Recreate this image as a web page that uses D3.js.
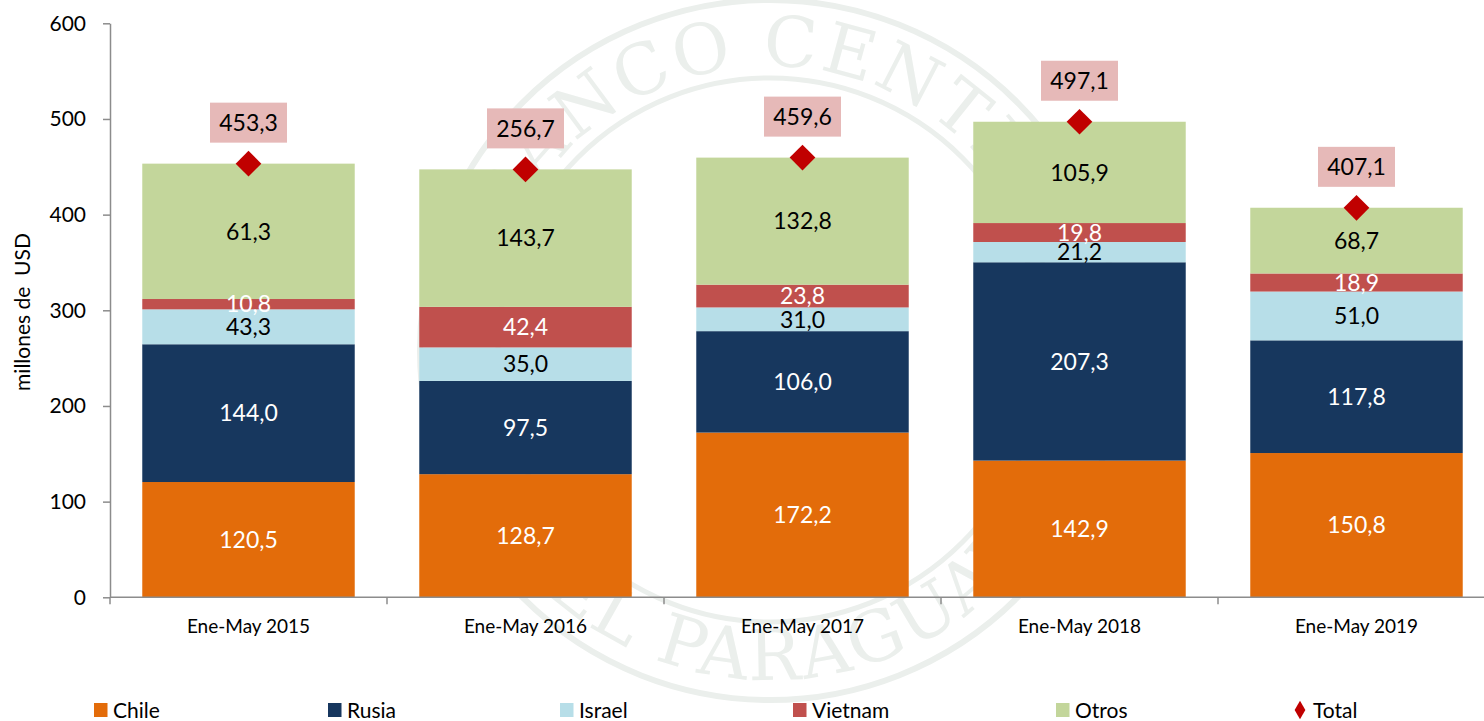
<!DOCTYPE html>
<html>
<meta charset="utf-8">
<style>
    body{ margin: 0; background: #fff; }
    svg{ display: block; font-family: Lato, "Open Sans", sans-serif; }
</style>
<body>
<svg width="1484" height="721"></svg>
<script src="https://d3js.org/d3.v7.min.js"></script>
<script>

    // data
    let years = ["Ene-May 2015", "Ene-May 2016", "Ene-May 2017", "Ene-May 2018", "Ene-May 2019"];
    let chile   = [120.5, 128.7, 172.2, 142.9, 150.8];
    let rusia   = [144.0, 97.5, 106.0, 207.3, 117.8];
    let israel  = [36.5, 35.0, 24.8, 21.2, 51.0];
    let vietnam = [10.8, 42.4, 23.8, 19.8, 18.9];
    let otros   = [141.5, 143.7, 132.8, 105.9, 68.7];
    let total   = [453.3, 447.3, 459.6, 497.1, 407.1];

    // printed labels (as shown in the source, some differ from bar heights)
    let chileLabels   = ["120,5", "128,7", "172,2", "142,9", "150,8"];
    let rusiaLabels   = ["144,0", "97,5", "106,0", "207,3", "117,8"];
    let israelLabels  = ["43,3", "35,0", "31,0", "21,2", "51,0"];
    let vietnamLabels = ["10,8", "42,4", "23,8", "19,8", "18,9"];
    let otrosLabels   = ["61,3", "143,7", "132,8", "105,9", "68,7"];
    let totalLabels   = ["453,3", "256,7", "459,6", "497,1", "407,1"];

    let yTicks = [0, 100, 200, 300, 400, 500, 600];

    let keys = ["Chile", "Rusia", "Israel", "Vietnam", "Otros"];
    let series = {Chile: chile, Rusia: rusia, Israel: israel, Vietnam: vietnam, Otros: otros};
    let labels = {Chile: chileLabels, Rusia: rusiaLabels, Israel: israelLabels, Vietnam: vietnamLabels, Otros: otrosLabels};
    let colors = {Chile: "#e36c0a", Rusia: "#17375e", Israel: "#b7dee8", Vietnam: "#c0504d", Otros: "#c3d69b"};
    let textColors = {Chile: "#fff", Rusia: "#fff", Israel: "#000", Vietnam: "#fff", Otros: "#000"};

    let rows = years.map(function (yr, i) {
        let r = {year: yr, i: i};
        keys.forEach(function (k) { r[k] = series[k][i]; });
        return r;
    });

    let svg = d3.select("svg");

    let x = d3.scaleBand()
        .domain(years)
        .range([110, 110 + 5 * 277])
        .paddingInner(0.233)
        .paddingOuter(0.1165);

    let y = d3.scaleLinear()
        .domain([0, 600])
        .range([597.3, 23.3]);

    // faint seal watermark behind the chart
    let wmColor = "#ebefec";
    let wm = svg.append("g").attr("transform", "translate(770,350)");
    wm.append("circle").attr("r", 350).attr("fill", "none").attr("stroke", wmColor).attr("stroke-width", 6);
    wm.append("circle").attr("r", 272).attr("fill", "none").attr("stroke", wmColor).attr("stroke-width", 5);
    wm.append("path").attr("id", "wmTop")
        .attr("d", "M -284,0 A 284,284 0 0 1 284,0")
        .attr("fill", "none");
    wm.append("path").attr("id", "wmBot")
        .attr("d", "M -330,0 A 330,330 0 0 0 330,0")
        .attr("fill", "none");
    wm.append("text")
        .attr("font-family", "'DejaVu Serif', serif")
        .attr("font-size", 70)
        .attr("fill", wmColor)
        .attr("letter-spacing", 3)
        .append("textPath").attr("href", "#wmTop").attr("startOffset", "53%").attr("text-anchor", "middle")
        .text("BANCO CENTRAL");
    wm.append("text")
        .attr("font-family", "'DejaVu Serif', serif")
        .attr("font-size", 70)
        .attr("fill", wmColor)
        .attr("letter-spacing", 3)
        .append("textPath").attr("href", "#wmBot").attr("startOffset", "50%").attr("text-anchor", "middle")
        .text("DEL PARAGUAY");

    let stacked = d3.stack().keys(keys)(rows);

    let layers = svg.append("g")
        .selectAll("g")
        .data(stacked)
        .enter().append("g")
        .attr("fill", function (d) { return colors[d.key]; });

    layers.selectAll("rect")
        .data(function (d) { return d; })
        .enter().append("rect")
        .attr("x", function (d) { return x(d.data.year); })
        .attr("y", function (d) { return y(d[1]); })
        .attr("width", x.bandwidth())
        .attr("height", function (d) { return y(d[0]) - y(d[1]); });

    // segment labels
    stacked.forEach(function (layer) {
        svg.append("g")
            .selectAll("text")
            .data(layer)
            .enter().append("text")
            .attr("x", function (d) { return x(d.data.year) + x.bandwidth() / 2; })
            .attr("y", function (d) { return (y(d[0]) + y(d[1])) / 2; })
            .attr("dy", "0.36em")
            .attr("text-anchor", "middle")
            .attr("font-size", 23)
            .attr("fill", textColors[layer.key])
            .text(function (d) { return labels[layer.key][d.data.i]; });
    });

    // y axis
    let yAxis = svg.append("g")
        .attr("transform", "translate(110,0)")
        .call(d3.axisLeft(y).tickValues(yTicks).tickSize(7).tickSizeOuter(0).tickPadding(17).tickFormat(d3.format("d")));
    yAxis.select(".domain").attr("stroke", "#8c8c8c").attr("stroke-width", 1.5);
    yAxis.selectAll(".tick line").attr("stroke", "#8c8c8c").attr("stroke-width", 1.5);
    yAxis.selectAll("text").attr("font-size", 21).attr("fill", "#000").attr("font-family", "Lato, sans-serif");

    // x axis
    let xAxis = svg.append("g")
        .attr("transform", "translate(0," + y(0) + ")")
        .call(d3.axisBottom(x).tickSize(0).tickPadding(22));
    xAxis.select(".domain").remove();
    xAxis.selectAll("text").attr("font-size", 19).attr("fill", "#000").attr("font-family", "Lato, sans-serif");

    svg.append("line")
        .attr("x1", 110).attr("x2", 1484)
        .attr("y1", y(0)).attr("y2", y(0))
        .attr("stroke", "#8c8c8c").attr("stroke-width", 1.5);

    let bounds = d3.range(years.length + 1).map(function (i) { return x.range()[0] + i * x.step(); });
    svg.append("g")
        .selectAll("line")
        .data(bounds.filter(function (b) { return b < 1484; }))
        .enter().append("line")
        .attr("x1", function (d) { return d; })
        .attr("x2", function (d) { return d; })
        .attr("y1", y(0))
        .attr("y2", y(0) + 7)
        .attr("stroke", "#8c8c8c").attr("stroke-width", 1.5);

    // total markers and boxed labels
    let tot = svg.append("g")
        .selectAll("g")
        .data(total)
        .enter().append("g")
        .attr("transform", function (d, i) {
            return "translate(" + (x(years[i]) + x.bandwidth() / 2) + "," + y(d) + ")";
        });

    tot.append("rect")
        .attr("x", -38.5)
        .attr("y", -61)
        .attr("width", 77)
        .attr("height", 40)
        .attr("fill", "#e6b9b8");

    tot.append("text")
        .attr("y", -41)
        .attr("dy", "0.36em")
        .attr("text-anchor", "middle")
        .attr("font-size", 23)
        .attr("fill", "#000")
        .text(function (d, i) { return totalLabels[i]; });

    tot.append("path")
        .attr("d", d3.symbol(d3.symbolSquare, 330)())
        .attr("transform", "rotate(45)")
        .attr("fill", "#c00000");

    // y title
    svg.append("text")
        .attr("transform", "translate(30,312) rotate(-90)")
        .attr("text-anchor", "middle")
        .attr("font-size", 21)
        .attr("fill", "#000")
        .attr("xml:space", "preserve")
        .text("millones de  USD");

    // legend
    let legendItems = keys.concat(["Total"]);
    let legendX = [94, 328, 560, 793, 1056, 1300];
    let legend = svg.append("g")
        .selectAll("g")
        .data(legendItems)
        .enter().append("g")
        .attr("transform", function (d, i) { return "translate(" + legendX[i] + ",703)"; });

    legend.filter(function (d) { return d !== "Total"; })
        .append("rect")
        .attr("width", 13.5)
        .attr("height", 14)
        .attr("fill", function (d) { return colors[d]; });

    legend.filter(function (d) { return d === "Total"; })
        .append("path")
        .attr("d", d3.symbol(d3.symbolDiamond, 100)())
        .attr("transform", "translate(0,7)")
        .attr("fill", "#c00000");

    legend.append("text")
        .attr("x", function (d) { return d === "Total" ? 13 : 19; })
        .attr("y", 14.5)
        .attr("font-size", 21)
        .attr("fill", "#000")
        .text(function (d) { return d; });

</script>
</body>
</html>
